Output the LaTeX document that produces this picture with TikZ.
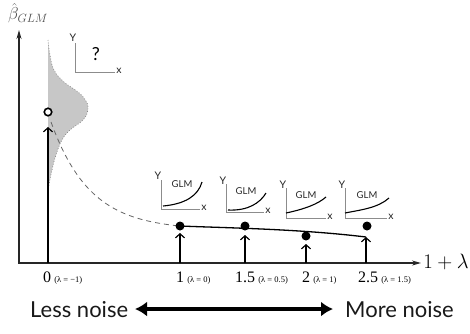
\documentclass[tikz,border=0pt]{standalone}
\usepackage[no-math]{fontspec}
\setmainfont{Lato}
\newfontfamily\numfont{Liberation Serif}
\usetikzlibrary{arrows.meta}
\begin{document}
\begin{tikzpicture}[x=1pt,y=-1pt,
 axisline/.style={line width=1.3pt, draw=black!85, {Stealth[length=9pt,width=5pt]}-{Stealth[length=9pt,width=5pt]}},
 tickarrow/.style={line width=1.2pt, draw=black, -{Straight Barb[length=4pt,width=9pt]}},
 dotnode/.style={circle, fill=black, inner sep=0pt, minimum size=9pt},
 odot/.style={circle, draw=black, line width=1.6pt, fill=white, inner sep=0pt, minimum size=7.5pt},
 glmaxis/.style={draw=black!45, line width=0.8pt},
 glmcurve/.style={draw=black, line width=1.1pt},
 smalllab/.style={font=\fontsize{10.5}{10.5}\selectfont, inner sep=0pt, text=black!85},
 glmlab/.style={font=\fontsize{9.5}{9.5}\selectfont, inner sep=0pt, text=black!85},
 numlab/.style={font=\numfont\fontsize{16}{16}\selectfont, inner sep=0pt, anchor=base},
 lamlab/.style={font=\numfont\fontsize{8.5}{8.5}\selectfont, inner sep=0pt, anchor=base west},
 noiselab/.style={font=\fontsize{22}{22}\selectfont, inner sep=0pt, anchor=base west, text=black!90}]

\useasboundingbox (0,0) rectangle (470,333);

% distribution
\fill[black!22] plot[smooth, tension=0.7] coordinates {(48,40) (50,55) (54,70) (64,82) (78,92) (86,101) (88,110) (83,120) (70,130) (62,140) (56,155) (52,170) (49,185) (48,195)} -- cycle;
\draw[dotted, black!50, line width=0.7pt] plot[smooth, tension=0.7] coordinates {(48,40) (50,55) (54,70) (64,82) (78,92) (86,101) (88,110) (83,120) (70,130) (62,140) (56,155) (52,170) (49,185) (48,195)};

% axes
\coordinate (O) at (19,263);
\coordinate (ytip) at (19,30);
\coordinate (xtip) at (421,263);
\draw[axisline] (ytip) -- (O) -- (xtip);

% axis labels
\node[font=\fontsize{18}{18}\selectfont, text=black!70, inner sep=0pt] (blab) at (28,13) {$\hat{\beta}_{GLM}$};
\node[font=\fontsize{20}{20}\selectfont, inner sep=0pt] (xlab) at (446,262) {$1+\lambda$};

% ticks
\coordinate (a0) at (48,263);  \coordinate (h0) at (48,127);
\coordinate (a1) at (180,263); \coordinate (h1) at (180,233);
\coordinate (a2) at (245,263); \coordinate (h2) at (245,235);
\coordinate (a3) at (306,263); \coordinate (h3) at (306,244);
\coordinate (a4) at (366,263); \coordinate (h4) at (366,237);

% dashed extrapolation
\draw[black!60, line width=0.8pt, dash pattern=on 5pt off 4pt] plot[domain=51:176, samples=40] (\x,{230-108*exp(-0.0256*(\x-51))});

\draw[tickarrow] (a0) -- (h0);
\draw[tickarrow] (a1) -- (h1);
\draw[tickarrow] (a2) -- (h2);
\draw[tickarrow] (a3) -- (h3);
\draw[tickarrow] (a4) -- (h4);

\node[odot] (c0) at (48,112) {};
\node[dotnode] (d1) at (180,226) {};
\node[dotnode] (d2) at (245,226) {};
\node[dotnode] (d3) at (306,236) {};
\node[dotnode] (d4) at (367,226) {};

% fitted curve
\draw[line width=1.3pt] (d1.center) .. controls (230,228) and (300,229) .. (h4);

% tick labels
\node[numlab] (n0) at (47,282) {0};
\node[lamlab] (l0) at ([xshift=3pt]n0.base east) {(λ = −1)};
\node[numlab] (n1) at (180,282) {1};
\node[lamlab] (l1) at ([xshift=3pt]n1.base east) {(λ = 0)};
\node[numlab] (n2) at (245,282) {1.5};
\node[lamlab] (l2) at ([xshift=3pt]n2.base east) {(λ = 0.5)};
\node[numlab] (n3) at (306,282) {2};
\node[lamlab] (l3) at ([xshift=3pt]n3.base east) {(λ = 1)};
\node[numlab] (n4) at (368,282) {2.5};
\node[lamlab] (l4) at ([xshift=3pt]n4.base east) {(λ = 1.5)};

% mini plot top-left
\coordinate (m0) at (75,72);
\draw[glmaxis] (75,43) -- (m0) -- (115,72);
\node[smalllab] (my) at (73,38) {Y};
\node[smalllab] (mx) at (119,71) {x};
\node[font=\fontsize{18}{18}\selectfont, inner sep=0pt] (q) at (96,54) {?};

% GLM plots
\draw[glmaxis] (161,180) -- (161,209) -- (200,209);
\node[smalllab] (y1) at (158,176) {Y};
\node[smalllab] (x1) at (204,208) {x};
\node[glmlab] (g1) at (182,184) {GLM};
\draw[glmcurve] (163,206) .. controls (185,204) and (198,196) .. (202,182);

\draw[glmaxis] (226,184) -- (226,212) -- (264,212);
\node[smalllab] (y2) at (223,181) {Y};
\node[smalllab] (x2) at (268,211) {x};
\node[glmlab] (g2) at (246,191) {GLM};
\draw[glmcurve] (228,210) .. controls (248,211) and (260,203) .. (266,193);

\draw[glmaxis] (286,188) -- (286,218) -- (326,218);
\node[smalllab] (y3) at (283,185) {Y};
\node[smalllab] (x3) at (330,217) {x};
\node[glmlab] (g3) at (306,195) {GLM};
\draw[glmcurve] (286,213) .. controls (305,209) and (318,204) .. (326,197);

\draw[glmaxis] (345,188) -- (345,218) -- (387,218);
\node[smalllab] (y4) at (342,185) {Y};
\node[smalllab] (x4) at (391,217) {x};
\node[glmlab] (g4) at (367,195) {GLM};
\draw[glmcurve] (345,213) .. controls (360,210) and (378,208) .. (389,198);

% noise arrow
\node[noiselab] (less) at (30,317) {Less noise};
\node[noiselab] (more) at (345,317) {More noise};
\coordinate (al) at (135,309);
\coordinate (ar) at (333,309);
\draw[line width=4.5pt, {Latex[length=12pt,width=15pt]}-{Latex[length=12pt,width=15pt]}] (al) -- (ar);
\end{tikzpicture}
\end{document}
